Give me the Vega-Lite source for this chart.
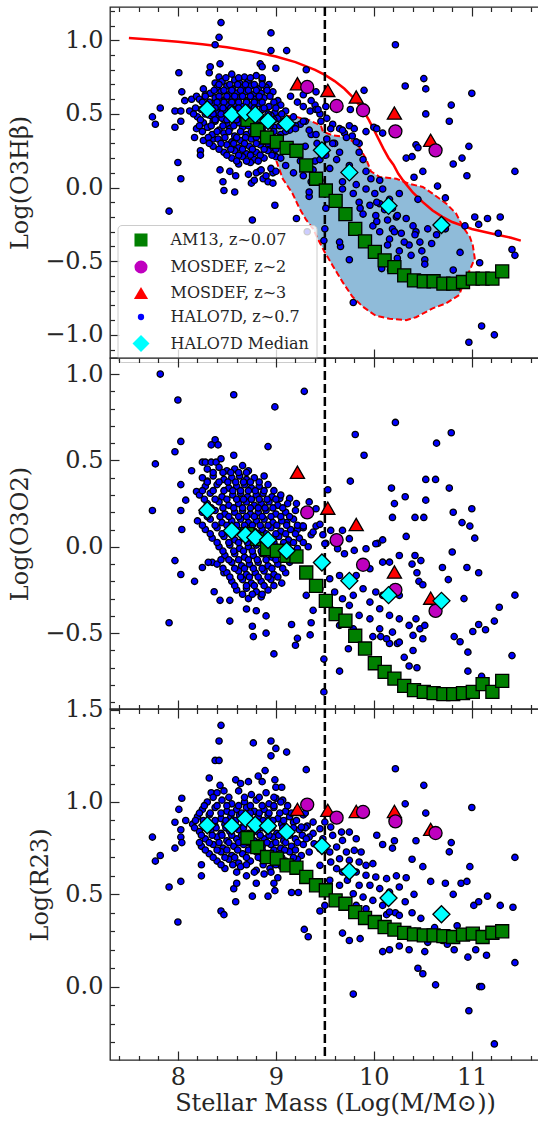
{
"$schema":"https://vega.github.io/schema/vega-lite/v6.json",
"padding":{"left":8,"top":5,"right":0,"bottom":0},
"background":"white",
"config":{
 "font":"DejaVu Serif",
 "view":{"stroke":"#262626","strokeWidth":1.3},
 "axis":{"domain":false,"grid":false,"tickColor":"#262626","tickWidth":1.2,"labelFont":"DejaVu Serif","labelFontSize":24,"labelColor":"#262626","titleFont":"DejaVu Serif","titleFontSize":24,"titleFontWeight":"normal","titleColor":"#262626","labelOverlap":false,"labelFlush":false},
 "legend":{"labelFont":"DejaVu Serif","labelFontSize":16,"labelColor":"#262626","padding":7,"rowPadding":7,"symbolOffset":7,"labelOffset":20,"fillColor":"rgba(255,255,255,0.8)","strokeColor":"#cccccc","cornerRadius":4,"symbolStrokeColor":"#000000","symbolStrokeWidth":1.3,"symbolOpacity":1}
},
"datasets":{
"vline":[{"x":9.5}],
"curve":[{"x":7.5,"y":1.015},{"x":7.75,"y":1.004},{"x":8.0,"y":0.99},{"x":8.25,"y":0.973},{"x":8.5,"y":0.953},{"x":8.75,"y":0.926},{"x":9.0,"y":0.89},{"x":9.2,"y":0.852},{"x":9.4,"y":0.799},{"x":9.5,"y":0.765},{"x":9.6,"y":0.723},{"x":9.7,"y":0.671},{"x":9.8,"y":0.604},{"x":9.9,"y":0.515},{"x":9.95,"y":0.458},{"x":10.0,"y":0.393},{"x":10.05,"y":0.327},{"x":10.1,"y":0.261},{"x":10.15,"y":0.201},{"x":10.2,"y":0.155},{"x":10.25,"y":0.094},{"x":10.3,"y":0.047},{"x":10.4,"y":-0.035},{"x":10.5,"y":-0.099},{"x":10.6,"y":-0.156},{"x":10.7,"y":-0.199},{"x":10.8,"y":-0.234},{"x":11.0,"y":-0.281},{"x":11.2,"y":-0.312},{"x":11.4,"y":-0.341},{"x":11.5,"y":-0.36}],
"blob":[{"x":8.95,"y":0.44,"y2":0.30},{"x":9.0,"y":0.47,"y2":0.19},{"x":9.07,"y":0.49,"y2":0.06},{"x":9.17,"y":0.485,"y2":-0.04},{"x":9.24,"y":0.48,"y2":-0.14},{"x":9.31,"y":0.465,"y2":-0.22},{"x":9.38,"y":0.445,"y2":-0.28},{"x":9.43,"y":0.43,"y2":-0.35},{"x":9.46,"y":0.42,"y2":-0.39},{"x":9.48,"y":0.38,"y2":-0.41},{"x":9.5,"y":0.375,"y2":-0.44},{"x":9.58,"y":0.355,"y2":-0.53},{"x":9.68,"y":0.345,"y2":-0.64},{"x":9.78,"y":0.32,"y2":-0.74},{"x":9.84,"y":0.287,"y2":-0.775},{"x":9.89,"y":0.23,"y2":-0.81},{"x":9.92,"y":0.196,"y2":-0.83},{"x":9.97,"y":0.11,"y2":-0.85},{"x":10.02,"y":0.085,"y2":-0.87},{"x":10.06,"y":0.072,"y2":-0.875},{"x":10.16,"y":0.065,"y2":-0.89},{"x":10.23,"y":0.06,"y2":-0.895},{"x":10.33,"y":0.03,"y2":-0.9},{"x":10.36,"y":0.026,"y2":-0.895},{"x":10.43,"y":0.014,"y2":-0.88},{"x":10.5,"y":0.004,"y2":-0.85},{"x":10.6,"y":-0.041,"y2":-0.82},{"x":10.74,"y":-0.109,"y2":-0.785},{"x":10.84,"y":-0.177,"y2":-0.74},{"x":10.87,"y":-0.21,"y2":-0.73},{"x":10.91,"y":-0.268,"y2":-0.66},{"x":10.98,"y":-0.335,"y2":-0.56},{"x":11.01,"y":-0.392,"y2":-0.52},{"x":11.03,"y":-0.48,"y2":-0.48}],
"outline":[{"i":1,"x":8.95,"y":0.44},{"i":2,"x":9.0,"y":0.47},{"i":3,"x":9.07,"y":0.49},{"i":4,"x":9.15,"y":0.485},{"i":5,"x":9.21,"y":0.48},{"i":6,"x":9.34,"y":0.457},{"i":7,"x":9.46,"y":0.42},{"i":8,"x":9.48,"y":0.38},{"i":9,"x":9.58,"y":0.355},{"i":10,"x":9.72,"y":0.344},{"i":11,"x":9.84,"y":0.287},{"i":12,"x":9.92,"y":0.196},{"i":13,"x":9.97,"y":0.11},{"i":14,"x":10.06,"y":0.072},{"i":15,"x":10.23,"y":0.06},{"i":16,"x":10.36,"y":0.026},{"i":17,"x":10.5,"y":0.004},{"i":18,"x":10.6,"y":-0.041},{"i":19,"x":10.74,"y":-0.109},{"i":20,"x":10.84,"y":-0.177},{"i":21,"x":10.91,"y":-0.268},{"i":22,"x":10.98,"y":-0.335},{"i":23,"x":11.01,"y":-0.392},{"i":24,"x":11.03,"y":-0.48},{"i":25,"x":10.98,"y":-0.56},{"i":26,"x":10.92,"y":-0.64},{"i":27,"x":10.87,"y":-0.73},{"i":28,"x":10.74,"y":-0.785},{"i":29,"x":10.6,"y":-0.82},{"i":30,"x":10.43,"y":-0.88},{"i":31,"x":10.33,"y":-0.9},{"i":32,"x":10.16,"y":-0.89},{"i":33,"x":10.02,"y":-0.87},{"i":34,"x":9.89,"y":-0.81},{"i":35,"x":9.78,"y":-0.74},{"i":36,"x":9.68,"y":-0.64},{"i":37,"x":9.58,"y":-0.53},{"i":38,"x":9.5,"y":-0.44},{"i":39,"x":9.43,"y":-0.35},{"i":40,"x":9.38,"y":-0.28},{"i":41,"x":9.31,"y":-0.22},{"i":42,"x":9.24,"y":-0.14},{"i":43,"x":9.17,"y":-0.04},{"i":44,"x":9.07,"y":0.06},{"i":45,"x":9.0,"y":0.19},{"i":46,"x":8.96,"y":0.29},{"i":47,"x":8.95,"y":0.44}],
"p1":[
{"s":"H","x":8.44,"y":1.12},{"s":"H","x":8.42,"y":1.02},{"s":"H","x":8.38,"y":0.97},{"s":"H","x":8.95,"y":1.05},{"s":"H","x":8.95,"y":0.93},{"s":"H","x":9.11,"y":0.93},{"s":"H","x":8.01,"y":0.78},{"s":"H","x":8.32,"y":0.78},{"s":"H","x":8.33,"y":0.82},{"s":"H","x":8.43,"y":0.84},{"s":"H","x":8.42,"y":0.75},{"s":"H","x":8.38,"y":0.71},{"s":"H","x":8.84,"y":0.84},{"s":"H","x":8.86,"y":0.82},{"s":"H","x":9.0,"y":0.81},{"s":"H","x":9.31,"y":0.8},{"s":"H","x":7.82,"y":0.54},{"s":"H","x":7.74,"y":0.48},{"s":"H","x":7.77,"y":0.43},{"s":"H","x":7.97,"y":0.52},{"s":"H","x":7.97,"y":0.41},{"s":"H","x":8.03,"y":0.52},{"s":"H","x":8.03,"y":0.45},{"s":"H","x":8.04,"y":0.65},{"s":"H","x":8.07,"y":0.59},{"s":"H","x":8.14,"y":0.6},{"s":"H","x":8.19,"y":0.62},{"s":"H","x":8.26,"y":0.67},{"s":"H","x":8.28,"y":0.63},{"s":"H","x":8.0,"y":0.17},{"s":"H","x":8.03,"y":0.06},{"s":"H","x":7.91,"y":-0.16},{"s":"H","x":8.17,"y":0.34},{"s":"H","x":8.23,"y":0.25},{"s":"H","x":8.23,"y":0.22},{"s":"H","x":8.36,"y":0.33},{"s":"H","x":8.31,"y":0.41},{"s":"H","x":8.36,"y":0.45},{"s":"H","x":8.42,"y":0.49},{"s":"H","x":8.43,"y":0.12},{"s":"H","x":8.46,"y":0.04},{"s":"H","x":8.47,"y":-0.02},{"s":"H","x":8.53,"y":0.11},{"s":"H","x":8.59,"y":0.08},{"s":"H","x":8.58,"y":-0.03},{"s":"H","x":8.75,"y":0.03},{"s":"H","x":8.78,"y":0.05},{"s":"H","x":8.83,"y":0.11},{"s":"H","x":8.87,"y":0.06},{"s":"H","x":8.9,"y":0.08},{"s":"H","x":8.97,"y":0.1},{"s":"H","x":8.92,"y":0.04},{"s":"H","x":8.97,"y":0.03},{"s":"H","x":8.76,"y":-0.22},{"s":"H","x":8.99,"y":-0.12},{"s":"H","x":9.21,"y":-0.21},{"s":"H","x":9.34,"y":-0.06},{"s":"H","x":8.8,"y":0.1},{"s":"H","x":8.85,"y":0.12},{"s":"H","x":8.72,"y":0.09},{"s":"H","x":8.95,"y":0.13},{"s":"H","x":9.0,"y":0.11},
{"s":"H","x":8.55,"y":0.77},{"s":"H","x":8.68,"y":0.75},{"s":"H","x":8.8,"y":0.76},{"s":"H","x":8.45,"y":0.72},{"s":"H","x":8.58,"y":0.73},{"s":"H","x":8.63,"y":0.71},{"s":"H","x":8.72,"y":0.72},{"s":"H","x":8.86,"y":0.73},{"s":"H","x":8.93,"y":0.7},{"s":"H","x":8.4,"y":0.68},{"s":"H","x":8.5,"y":0.69},{"s":"H","x":8.56,"y":0.67},{"s":"H","x":8.66,"y":0.68},{"s":"H","x":8.74,"y":0.69},{"s":"H","x":8.82,"y":0.67},{"s":"H","x":8.9,"y":0.68},{"s":"H","x":8.33,"y":0.64},{"s":"H","x":8.44,"y":0.65},{"s":"H","x":8.52,"y":0.63},{"s":"H","x":8.6,"y":0.64},{"s":"H","x":8.69,"y":0.65},{"s":"H","x":8.77,"y":0.63},{"s":"H","x":8.85,"y":0.64},{"s":"H","x":8.97,"y":0.65},{"s":"H","x":8.22,"y":0.6},{"s":"H","x":8.38,"y":0.61},{"s":"H","x":8.47,"y":0.59},{"s":"H","x":8.55,"y":0.6},{"s":"H","x":8.62,"y":0.61},{"s":"H","x":8.7,"y":0.59},{"s":"H","x":8.78,"y":0.6},{"s":"H","x":8.88,"y":0.61},{"s":"H","x":9.02,"y":0.59},{"s":"H","x":8.28,"y":0.56},{"s":"H","x":8.35,"y":0.57},{"s":"H","x":8.43,"y":0.55},{"s":"H","x":8.51,"y":0.56},{"s":"H","x":8.58,"y":0.57},{"s":"H","x":8.66,"y":0.55},{"s":"H","x":8.74,"y":0.56},{"s":"H","x":8.82,"y":0.57},{"s":"H","x":8.93,"y":0.55},{"s":"H","x":9.05,"y":0.56},{"s":"H","x":8.12,"y":0.52},{"s":"H","x":8.24,"y":0.53},{"s":"H","x":8.4,"y":0.51},{"s":"H","x":8.48,"y":0.52},{"s":"H","x":8.6,"y":0.53},{"s":"H","x":8.7,"y":0.51},{"s":"H","x":8.78,"y":0.52},{"s":"H","x":8.86,"y":0.53},{"s":"H","x":8.99,"y":0.51},{"s":"H","x":9.1,"y":0.52},{"s":"H","x":8.2,"y":0.48},{"s":"H","x":8.33,"y":0.49},{"s":"H","x":8.45,"y":0.47},{"s":"H","x":8.56,"y":0.48},{"s":"H","x":8.64,"y":0.49},{"s":"H","x":8.72,"y":0.47},{"s":"H","x":8.84,"y":0.48},{"s":"H","x":8.95,"y":0.49},{"s":"H","x":9.02,"y":0.47},{"s":"H","x":9.18,"y":0.48},{"s":"H","x":8.26,"y":0.44},{"s":"H","x":8.38,"y":0.45},{"s":"H","x":8.5,"y":0.43},{"s":"H","x":8.62,"y":0.44},{"s":"H","x":8.69,"y":0.45},{"s":"H","x":8.8,"y":0.43},{"s":"H","x":8.9,"y":0.44},{"s":"H","x":9.08,"y":0.45},{"s":"H","x":9.25,"y":0.43},{"s":"H","x":8.19,"y":0.4},{"s":"H","x":8.3,"y":0.41},{"s":"H","x":8.42,"y":0.39},{"s":"H","x":8.53,"y":0.4},{"s":"H","x":8.66,"y":0.41},{"s":"H","x":8.77,"y":0.39},{"s":"H","x":8.86,"y":0.4},{"s":"H","x":8.98,"y":0.41},{"s":"H","x":9.14,"y":0.39},{"s":"H","x":8.35,"y":0.36},{"s":"H","x":8.47,"y":0.37},{"s":"H","x":8.58,"y":0.35},{"s":"H","x":8.7,"y":0.36},{"s":"H","x":8.81,"y":0.37},{"s":"H","x":8.92,"y":0.35},{"s":"H","x":9.05,"y":0.36},{"s":"H","x":8.26,"y":0.32},{"s":"H","x":8.41,"y":0.33},{"s":"H","x":8.55,"y":0.31},{"s":"H","x":8.64,"y":0.32},{"s":"H","x":8.75,"y":0.33},{"s":"H","x":8.87,"y":0.31},{"s":"H","x":9.0,"y":0.32},{"s":"H","x":8.36,"y":0.28},{"s":"H","x":8.5,"y":0.29},{"s":"H","x":8.62,"y":0.27},{"s":"H","x":8.73,"y":0.28},{"s":"H","x":8.84,"y":0.29},{"s":"H","x":8.96,"y":0.27},{"s":"H","x":8.47,"y":0.24},{"s":"H","x":8.58,"y":0.25},{"s":"H","x":8.7,"y":0.23},{"s":"H","x":8.8,"y":0.24},{"s":"H","x":8.92,"y":0.25},{"s":"H","x":8.55,"y":0.2},{"s":"H","x":8.66,"y":0.21},{"s":"H","x":8.78,"y":0.19},{"s":"H","x":8.88,"y":0.2},{"s":"H","x":9.0,"y":0.21},{"s":"H","x":8.62,"y":0.16},{"s":"H","x":8.74,"y":0.17},
{"s":"H","x":8.49,"y":0.745},{"s":"H","x":8.62,"y":0.745},{"s":"H","x":8.74,"y":0.745},{"s":"H","x":8.86,"y":0.745},{"s":"H","x":8.42,"y":0.7},{"s":"H","x":8.53,"y":0.7},{"s":"H","x":8.61,"y":0.7},{"s":"H","x":8.69,"y":0.7},{"s":"H","x":8.78,"y":0.7},{"s":"H","x":8.86,"y":0.7},{"s":"H","x":8.37,"y":0.66},{"s":"H","x":8.47,"y":0.66},{"s":"H","x":8.55,"y":0.66},{"s":"H","x":8.64,"y":0.66},{"s":"H","x":8.72,"y":0.66},{"s":"H","x":8.8,"y":0.66},{"s":"H","x":8.91,"y":0.66},{"s":"H","x":8.28,"y":0.62},{"s":"H","x":8.42,"y":0.62},{"s":"H","x":8.5,"y":0.62},{"s":"H","x":8.58,"y":0.62},{"s":"H","x":8.66,"y":0.62},{"s":"H","x":8.74,"y":0.62},{"s":"H","x":8.83,"y":0.62},{"s":"H","x":8.94,"y":0.62},{"s":"H","x":8.25,"y":0.58},{"s":"H","x":8.32,"y":0.58},{"s":"H","x":8.4,"y":0.58},{"s":"H","x":8.47,"y":0.58},{"s":"H","x":8.55,"y":0.58},{"s":"H","x":8.62,"y":0.58},{"s":"H","x":8.7,"y":0.58},{"s":"H","x":8.78,"y":0.58},{"s":"H","x":8.86,"y":0.58},{"s":"H","x":8.98,"y":0.58},{"s":"H","x":8.18,"y":0.54},{"s":"H","x":8.31,"y":0.54},{"s":"H","x":8.38,"y":0.54},{"s":"H","x":8.46,"y":0.54},{"s":"H","x":8.54,"y":0.54},{"s":"H","x":8.62,"y":0.54},{"s":"H","x":8.7,"y":0.54},{"s":"H","x":8.78,"y":0.54},{"s":"H","x":8.88,"y":0.54},{"s":"H","x":9.0,"y":0.54},{"s":"H","x":8.16,"y":0.5},{"s":"H","x":8.28,"y":0.5},{"s":"H","x":8.36,"y":0.5},{"s":"H","x":8.44,"y":0.5},{"s":"H","x":8.52,"y":0.5},{"s":"H","x":8.64,"y":0.5},{"s":"H","x":8.75,"y":0.5},{"s":"H","x":8.82,"y":0.5},{"s":"H","x":8.92,"y":0.5},{"s":"H","x":9.06,"y":0.5},{"s":"H","x":8.23,"y":0.46},{"s":"H","x":8.38,"y":0.46},{"s":"H","x":8.5,"y":0.46},{"s":"H","x":8.6,"y":0.46},{"s":"H","x":8.68,"y":0.46},{"s":"H","x":8.78,"y":0.46},{"s":"H","x":8.88,"y":0.46},{"s":"H","x":8.98,"y":0.46},{"s":"H","x":9.12,"y":0.46},{"s":"H","x":8.22,"y":0.42},{"s":"H","x":8.34,"y":0.42},{"s":"H","x":8.46,"y":0.42},{"s":"H","x":8.57,"y":0.42},{"s":"H","x":8.72,"y":0.42},{"s":"H","x":8.83,"y":0.42},{"s":"H","x":8.94,"y":0.42},{"s":"H","x":9.04,"y":0.42},{"s":"H","x":9.2,"y":0.42},{"s":"H","x":8.25,"y":0.38},{"s":"H","x":8.4,"y":0.38},{"s":"H","x":8.52,"y":0.38},{"s":"H","x":8.64,"y":0.38},{"s":"H","x":8.75,"y":0.38},{"s":"H","x":8.86,"y":0.38},{"s":"H","x":8.98,"y":0.38},{"s":"H","x":9.1,"y":0.38},{"s":"H","x":8.31,"y":0.34},{"s":"H","x":8.48,"y":0.34},{"s":"H","x":8.6,"y":0.34},{"s":"H","x":8.69,"y":0.34},{"s":"H","x":8.8,"y":0.34},{"s":"H","x":8.93,"y":0.34},{"s":"H","x":9.04,"y":0.34},{"s":"H","x":8.32,"y":0.3},{"s":"H","x":8.44,"y":0.3},{"s":"H","x":8.57,"y":0.3},{"s":"H","x":8.68,"y":0.3},{"s":"H","x":8.8,"y":0.3},{"s":"H","x":8.92,"y":0.3},{"s":"H","x":8.42,"y":0.26},{"s":"H","x":8.54,"y":0.26},{"s":"H","x":8.66,"y":0.26},{"s":"H","x":8.76,"y":0.26},{"s":"H","x":8.88,"y":0.26},{"s":"H","x":9.0,"y":0.26},{"s":"H","x":8.5,"y":0.22},{"s":"H","x":8.62,"y":0.22},{"s":"H","x":8.74,"y":0.22},{"s":"H","x":8.84,"y":0.22},{"s":"H","x":8.96,"y":0.22},{"s":"H","x":8.6,"y":0.18},{"s":"H","x":8.7,"y":0.18},{"s":"H","x":8.82,"y":0.18},
{"s":"H","x":9.15,"y":0.62},{"s":"H","x":9.22,"y":0.58},{"s":"H","x":9.28,"y":0.55},{"s":"H","x":9.35,"y":0.52},{"s":"H","x":9.4,"y":0.56},{"s":"H","x":9.45,"y":0.5},{"s":"H","x":9.52,"y":0.47},{"s":"H","x":9.58,"y":0.43},{"s":"H","x":9.65,"y":0.4},{"s":"H","x":9.7,"y":0.37},{"s":"H","x":9.3,"y":0.45},{"s":"H","x":9.2,"y":0.4},{"s":"H","x":9.36,"y":0.36},{"s":"H","x":9.42,"y":0.3},{"s":"H","x":9.48,"y":0.25},{"s":"H","x":9.3,"y":0.28},{"s":"H","x":9.25,"y":0.18},{"s":"H","x":9.38,"y":0.12},{"s":"H","x":9.45,"y":0.05},{"s":"H","x":9.52,"y":0.33},{"s":"H","x":9.6,"y":0.3},{"s":"H","x":9.75,"y":0.42},{"s":"H","x":9.78,"y":0.35},{"s":"H","x":9.85,"y":0.3},{"s":"H","x":9.92,"y":0.38},{"s":"H","x":10.0,"y":0.41},{"s":"H","x":9.28,"y":0.63},{"s":"H","x":9.36,"y":0.59},{"s":"H","x":9.41,"y":0.53},{"s":"H","x":9.51,"y":0.55},{"s":"H","x":9.41,"y":0.65},{"s":"H","x":9.46,"y":0.45},{"s":"H","x":9.1,"y":0.15},{"s":"H","x":9.18,"y":0.1},{"s":"H","x":9.28,"y":0.08},{"s":"H","x":9.4,"y":0.18},{"s":"H","x":9.15,"y":0.25},{"s":"H","x":9.05,"y":0.2},
{"s":"H","x":10.22,"y":0.97},{"s":"H","x":10.32,"y":0.69},{"s":"H","x":10.51,"y":0.74},{"s":"H","x":10.53,"y":0.67},{"s":"H","x":11.0,"y":0.64},{"s":"H","x":10.79,"y":0.56},{"s":"H","x":10.53,"y":0.5},{"s":"H","x":10.77,"y":0.45},{"s":"H","x":9.9,"y":0.66},{"s":"H","x":9.43,"y":0.53},{"s":"H","x":9.76,"y":0.53},{"s":"H","x":10.03,"y":0.4},{"s":"H","x":10.09,"y":0.37},{"s":"H","x":10.43,"y":0.29},{"s":"H","x":10.45,"y":0.27},{"s":"H","x":10.33,"y":0.2},{"s":"H","x":10.39,"y":0.21},{"s":"H","x":10.97,"y":0.28},{"s":"H","x":10.9,"y":0.2},{"s":"H","x":10.81,"y":0.16},{"s":"H","x":10.5,"y":0.11},{"s":"H","x":10.65,"y":0.01},{"s":"H","x":10.41,"y":0.07},{"s":"H","x":10.95,"y":0.08},{"s":"H","x":11.44,"y":0.11},{"s":"H","x":10.73,"y":-0.07},{"s":"H","x":11.03,"y":-0.2},{"s":"H","x":11.07,"y":-0.25},{"s":"H","x":11.16,"y":-0.21},{"s":"H","x":11.29,"y":-0.2},{"s":"H","x":10.93,"y":-0.26},{"s":"H","x":11.27,"y":-0.31},{"s":"H","x":11.41,"y":-0.42},{"s":"H","x":11.44,"y":-0.46},{"s":"H","x":10.88,"y":-0.44},{"s":"H","x":10.81,"y":-0.56},{"s":"H","x":11.08,"y":-0.51},{"s":"H","x":11.1,"y":-0.94},{"s":"H","x":11.23,"y":-1.0},{"s":"H","x":10.97,"y":-1.05},{"s":"H","x":9.79,"y":-0.78},{"s":"H","x":9.75,"y":-0.49},{"s":"H","x":9.66,"y":-0.4},{"s":"H","x":9.49,"y":-0.36},{"s":"H","x":10.52,"y":-0.49},{"s":"H","x":10.52,"y":-0.52},{"s":"H","x":9.32,"y":-0.3},
{"s":"H","x":9.28,"y":0.45},{"s":"H","x":9.34,"y":0.39},{"s":"H","x":9.41,"y":0.36},{"s":"H","x":9.56,"y":0.4},{"s":"H","x":9.68,"y":0.39},{"s":"H","x":9.8,"y":0.4},{"s":"H","x":9.72,"y":0.34},{"s":"H","x":9.82,"y":0.31},{"s":"H","x":9.58,"y":0.3},{"s":"H","x":9.65,"y":0.24},{"s":"H","x":9.51,"y":0.22},{"s":"H","x":9.45,"y":0.19},{"s":"H","x":9.62,"y":0.19},{"s":"H","x":9.85,"y":0.24},{"s":"H","x":9.89,"y":0.19},{"s":"H","x":9.75,"y":0.15},{"s":"H","x":9.55,"y":0.13},{"s":"H","x":9.92,"y":0.11},{"s":"H","x":9.97,"y":0.06},{"s":"H","x":10.06,"y":0.05},{"s":"H","x":9.82,"y":0.02},{"s":"H","x":9.68,"y":-0.01},{"s":"H","x":9.92,"y":-0.01},{"s":"H","x":10.09,"y":-0.01},{"s":"H","x":9.79,"y":-0.04},{"s":"H","x":10.01,"y":-0.04},{"s":"H","x":9.85,"y":-0.1},{"s":"H","x":9.96,"y":-0.12},{"s":"H","x":10.06,"y":-0.11},{"s":"H","x":10.19,"y":-0.14},{"s":"H","x":9.89,"y":-0.18},{"s":"H","x":10.02,"y":-0.19},{"s":"H","x":10.14,"y":-0.22},{"s":"H","x":10.23,"y":-0.2},{"s":"H","x":10.33,"y":-0.21},{"s":"H","x":10.19,"y":-0.28},{"s":"H","x":10.28,"y":-0.31},{"s":"H","x":10.43,"y":-0.3},{"s":"H","x":10.47,"y":-0.37},{"s":"H","x":10.36,"y":-0.39},{"s":"H","x":10.26,"y":-0.43},{"s":"H","x":10.16,"y":-0.35},{"s":"H","x":10.06,"y":-0.3},{"s":"H","x":9.65,"y":-0.37},{"s":"H","x":9.5,"y":-0.28},{"s":"H","x":9.51,"y":-0.14},{"s":"H","x":9.34,"y":-0.03},{"s":"H","x":9.36,"y":0.04},{"s":"H","x":10.4,"y":-0.26},{"s":"H","x":10.55,"y":-0.28},{"s":"H","x":10.16,"y":-0.08},{"s":"H","x":10.26,"y":-0.04},{"s":"H","x":10.45,"y":-0.08},{"s":"H","x":10.11,"y":-0.15},{"s":"H","x":9.99,"y":-0.26},{"s":"H","x":9.68,"y":0.04},{"s":"H","x":9.86,"y":-0.14},{"s":"H","x":10.03,"y":-0.23},{"s":"H","x":10.21,"y":-0.3},{"s":"H","x":10.31,"y":-0.37},{"s":"H","x":10.42,"y":-0.32},{"s":"H","x":10.14,"y":-0.39},{"s":"H","x":10.24,"y":-0.48},{"s":"H","x":10.38,"y":-0.46},{"s":"H","x":10.08,"y":-0.55},{"s":"H","x":10.17,"y":-0.56},{"s":"H","x":10.49,"y":-0.43},{"s":"H","x":10.59,"y":-0.38},{"s":"H","x":10.64,"y":-0.32},{"s":"H","x":10.73,"y":-0.28},{"s":"H","x":10.24,"y":-0.19},{"s":"H","x":10.03,"y":-0.1},
{"s":"A","x":8.71,"y":0.46},{"s":"A","x":8.81,"y":0.39},{"s":"A","x":8.91,"y":0.34},{"s":"A","x":9.01,"y":0.31},{"s":"A","x":9.11,"y":0.27},{"s":"A","x":9.21,"y":0.25},{"s":"A","x":9.31,"y":0.15},{"s":"A","x":9.41,"y":0.06},{"s":"A","x":9.51,"y":-0.02},{"s":"A","x":9.61,"y":-0.09},{"s":"A","x":9.71,"y":-0.18},{"s":"A","x":9.81,"y":-0.28},{"s":"A","x":9.91,"y":-0.365},{"s":"A","x":10.01,"y":-0.437},{"s":"A","x":10.11,"y":-0.494},{"s":"A","x":10.21,"y":-0.54},{"s":"A","x":10.31,"y":-0.596},{"s":"A","x":10.41,"y":-0.63},{"s":"A","x":10.51,"y":-0.636},{"s":"A","x":10.61,"y":-0.636},{"s":"A","x":10.71,"y":-0.652},{"s":"A","x":10.81,"y":-0.652},{"s":"A","x":10.91,"y":-0.641},{"s":"A","x":11.01,"y":-0.618},{"s":"A","x":11.11,"y":-0.618},{"s":"A","x":11.21,"y":-0.618},{"s":"A","x":11.31,"y":-0.569},
{"s":"M3","x":9.22,"y":0.705},{"s":"M3","x":9.53,"y":0.66},{"s":"M3","x":9.82,"y":0.615},{"s":"M3","x":10.21,"y":0.506},{"s":"M3","x":10.58,"y":0.321},
{"s":"M2","x":9.32,"y":0.683},{"s":"M2","x":9.62,"y":0.554},{"s":"M2","x":9.89,"y":0.525},{"s":"M2","x":10.22,"y":0.382},{"s":"M2","x":10.63,"y":0.253},
{"s":"D","x":8.3,"y":0.532},{"s":"D","x":8.55,"y":0.495},{"s":"D","x":8.69,"y":0.509},{"s":"D","x":8.79,"y":0.495},{"s":"D","x":8.92,"y":0.452},{"s":"D","x":9.11,"y":0.434},{"s":"D","x":9.47,"y":0.253},{"s":"D","x":9.75,"y":0.103},{"s":"D","x":10.15,"y":-0.124},{"s":"D","x":10.69,"y":-0.254}
],
"p2":[
{"s":"H","x":7.82,"y":1.0},{"s":"H","x":8.0,"y":0.85},{"s":"H","x":8.57,"y":0.88},{"s":"H","x":9.29,"y":0.9},{"s":"H","x":8.99,"y":0.81},{"s":"H","x":8.03,"y":0.61},{"s":"H","x":7.97,"y":0.55},{"s":"H","x":7.77,"y":0.48},{"s":"H","x":8.38,"y":0.62},{"s":"H","x":8.34,"y":0.59},{"s":"H","x":8.41,"y":0.59},{"s":"H","x":8.92,"y":0.58},{"s":"H","x":8.57,"y":0.53},{"s":"H","x":7.74,"y":0.21},{"s":"H","x":8.03,"y":0.36},{"s":"H","x":8.03,"y":0.21},{"s":"H","x":8.04,"y":0.1},{"s":"H","x":8.08,"y":0.27},{"s":"H","x":8.19,"y":0.32},{"s":"H","x":8.14,"y":0.44},{"s":"H","x":8.25,"y":0.49},{"s":"H","x":8.28,"y":0.49},{"s":"H","x":8.34,"y":0.49},{"s":"H","x":8.39,"y":0.49},{"s":"H","x":8.44,"y":0.51},{"s":"H","x":8.3,"y":0.38},{"s":"H","x":7.97,"y":-0.08},{"s":"H","x":8.03,"y":-0.16},{"s":"H","x":8.17,"y":-0.2},{"s":"H","x":7.91,"y":-0.44},{"s":"H","x":8.53,"y":-0.43},{"s":"H","x":8.35,"y":-0.09},{"s":"H","x":8.31,"y":-0.09},{"s":"H","x":8.25,"y":-0.12},{"s":"H","x":8.47,"y":-0.15},{"s":"H","x":8.37,"y":-0.26},{"s":"H","x":8.43,"y":-0.31},{"s":"H","x":8.53,"y":-0.31},{"s":"H","x":8.7,"y":-0.36},{"s":"H","x":8.8,"y":-0.37},{"s":"H","x":8.9,"y":-0.4},{"s":"H","x":8.76,"y":-0.46},{"s":"H","x":8.77,"y":-0.52},{"s":"H","x":8.9,"y":-0.5},{"s":"H","x":9.16,"y":-0.45},{"s":"H","x":9.36,"y":-0.44},{"s":"H","x":9.35,"y":-0.51},{"s":"H","x":9.22,"y":-0.53},{"s":"H","x":9.2,"y":-0.57},{"s":"H","x":8.98,"y":-0.62},{"s":"H","x":9.49,"y":-0.65},{"s":"H","x":9.49,"y":-0.84},
{"s":"H","x":9.04,"y":0.28},{"s":"H","x":9.14,"y":0.28},{"s":"H","x":9.21,"y":0.25},{"s":"H","x":9.34,"y":0.26},{"s":"H","x":9.41,"y":0.22},{"s":"H","x":9.27,"y":0.12},{"s":"H","x":9.41,"y":0.12},{"s":"H","x":9.48,"y":0.07},{"s":"H","x":9.36,"y":0.07},{"s":"H","x":9.51,"y":0.02},{"s":"H","x":9.11,"y":0.14},{"s":"H","x":9.22,"y":0.1},
{"s":"H","x":8.3,"y":0.45},{"s":"H","x":8.42,"y":0.46},{"s":"H","x":8.5,"y":0.44},{"s":"H","x":8.58,"y":0.45},{"s":"H","x":8.66,"y":0.47},{"s":"H","x":8.72,"y":0.44},{"s":"H","x":8.25,"y":0.4},{"s":"H","x":8.36,"y":0.41},{"s":"H","x":8.47,"y":0.39},{"s":"H","x":8.55,"y":0.4},{"s":"H","x":8.63,"y":0.41},{"s":"H","x":8.7,"y":0.39},{"s":"H","x":8.78,"y":0.4},{"s":"H","x":8.88,"y":0.41},{"s":"H","x":8.28,"y":0.35},{"s":"H","x":8.4,"y":0.36},{"s":"H","x":8.52,"y":0.34},{"s":"H","x":8.6,"y":0.35},{"s":"H","x":8.68,"y":0.36},{"s":"H","x":8.75,"y":0.34},{"s":"H","x":8.83,"y":0.35},{"s":"H","x":8.92,"y":0.36},{"s":"H","x":8.22,"y":0.3},{"s":"H","x":8.33,"y":0.31},{"s":"H","x":8.45,"y":0.29},{"s":"H","x":8.56,"y":0.3},{"s":"H","x":8.64,"y":0.31},{"s":"H","x":8.71,"y":0.29},{"s":"H","x":8.8,"y":0.3},{"s":"H","x":8.87,"y":0.31},{"s":"H","x":8.96,"y":0.29},{"s":"H","x":9.05,"y":0.3},{"s":"H","x":8.3,"y":0.25},{"s":"H","x":8.42,"y":0.26},{"s":"H","x":8.52,"y":0.24},{"s":"H","x":8.62,"y":0.25},{"s":"H","x":8.7,"y":0.26},{"s":"H","x":8.78,"y":0.24},{"s":"H","x":8.85,"y":0.25},{"s":"H","x":8.93,"y":0.26},{"s":"H","x":9.02,"y":0.24},{"s":"H","x":9.12,"y":0.25},{"s":"H","x":8.25,"y":0.2},{"s":"H","x":8.38,"y":0.21},{"s":"H","x":8.48,"y":0.19},{"s":"H","x":8.58,"y":0.2},{"s":"H","x":8.66,"y":0.21},{"s":"H","x":8.74,"y":0.19},{"s":"H","x":8.82,"y":0.2},{"s":"H","x":8.9,"y":0.21},{"s":"H","x":9.0,"y":0.19},{"s":"H","x":9.1,"y":0.2},{"s":"H","x":9.2,"y":0.21},{"s":"H","x":8.2,"y":0.15},{"s":"H","x":8.33,"y":0.16},{"s":"H","x":8.45,"y":0.14},{"s":"H","x":8.55,"y":0.15},{"s":"H","x":8.64,"y":0.16},{"s":"H","x":8.72,"y":0.14},{"s":"H","x":8.8,"y":0.15},{"s":"H","x":8.88,"y":0.16},{"s":"H","x":8.97,"y":0.14},{"s":"H","x":9.06,"y":0.15},{"s":"H","x":9.18,"y":0.16},{"s":"H","x":8.28,"y":0.1},{"s":"H","x":8.4,"y":0.11},{"s":"H","x":8.52,"y":0.09},{"s":"H","x":8.61,"y":0.1},{"s":"H","x":8.7,"y":0.11},{"s":"H","x":8.78,"y":0.09},{"s":"H","x":8.86,"y":0.1},{"s":"H","x":8.95,"y":0.11},{"s":"H","x":9.05,"y":0.09},{"s":"H","x":9.15,"y":0.1},{"s":"H","x":9.28,"y":0.11},{"s":"H","x":8.35,"y":0.05},{"s":"H","x":8.47,"y":0.06},{"s":"H","x":8.58,"y":0.04},{"s":"H","x":8.67,"y":0.05},{"s":"H","x":8.76,"y":0.06},{"s":"H","x":8.84,"y":0.04},{"s":"H","x":8.94,"y":0.05},{"s":"H","x":9.03,"y":0.06},{"s":"H","x":9.13,"y":0.04},{"s":"H","x":9.24,"y":0.05},{"s":"H","x":8.42,"y":0.0},{"s":"H","x":8.53,"y":0.01},{"s":"H","x":8.63,"y":-0.01},{"s":"H","x":8.72,"y":0.0},{"s":"H","x":8.8,"y":0.01},{"s":"H","x":8.9,"y":-0.01},{"s":"H","x":9.0,"y":0.0},{"s":"H","x":9.12,"y":0.01},{"s":"H","x":9.22,"y":-0.01},{"s":"H","x":9.33,"y":0.0},{"s":"H","x":8.48,"y":-0.05},{"s":"H","x":8.58,"y":-0.04},{"s":"H","x":8.68,"y":-0.06},{"s":"H","x":8.77,"y":-0.05},{"s":"H","x":8.86,"y":-0.04},{"s":"H","x":8.96,"y":-0.06},{"s":"H","x":9.08,"y":-0.05},{"s":"H","x":9.18,"y":-0.04},{"s":"H","x":8.4,"y":-0.1},{"s":"H","x":8.55,"y":-0.09},{"s":"H","x":8.65,"y":-0.11},{"s":"H","x":8.73,"y":-0.1},{"s":"H","x":8.82,"y":-0.09},{"s":"H","x":8.92,"y":-0.11},{"s":"H","x":9.02,"y":-0.1},{"s":"H","x":9.14,"y":-0.09},{"s":"H","x":8.5,"y":-0.15},{"s":"H","x":8.62,"y":-0.14},{"s":"H","x":8.7,"y":-0.16},{"s":"H","x":8.79,"y":-0.15},{"s":"H","x":8.88,"y":-0.14},{"s":"H","x":8.98,"y":-0.16},{"s":"H","x":9.1,"y":-0.15},{"s":"H","x":8.55,"y":-0.2},{"s":"H","x":8.66,"y":-0.19},{"s":"H","x":8.75,"y":-0.21},{"s":"H","x":8.85,"y":-0.2},{"s":"H","x":8.95,"y":-0.19},{"s":"H","x":9.06,"y":-0.21},{"s":"H","x":8.6,"y":-0.25},{"s":"H","x":8.7,"y":-0.24},{"s":"H","x":8.8,"y":-0.26},{"s":"H","x":8.92,"y":-0.25},{"s":"H","x":8.72,"y":-0.3},{"s":"H","x":8.85,"y":-0.29},
{"s":"H","x":8.36,"y":0.43},{"s":"H","x":8.46,"y":0.43},{"s":"H","x":8.54,"y":0.43},{"s":"H","x":8.62,"y":0.43},{"s":"H","x":8.7,"y":0.43},{"s":"H","x":8.3,"y":0.375},{"s":"H","x":8.42,"y":0.375},{"s":"H","x":8.51,"y":0.375},{"s":"H","x":8.59,"y":0.375},{"s":"H","x":8.67,"y":0.375},{"s":"H","x":8.74,"y":0.375},{"s":"H","x":8.83,"y":0.375},{"s":"H","x":8.25,"y":0.325},{"s":"H","x":8.36,"y":0.325},{"s":"H","x":8.47,"y":0.325},{"s":"H","x":8.56,"y":0.325},{"s":"H","x":8.64,"y":0.325},{"s":"H","x":8.72,"y":0.325},{"s":"H","x":8.79,"y":0.325},{"s":"H","x":8.88,"y":0.325},{"s":"H","x":8.98,"y":0.325},{"s":"H","x":8.27,"y":0.275},{"s":"H","x":8.38,"y":0.275},{"s":"H","x":8.5,"y":0.275},{"s":"H","x":8.6,"y":0.275},{"s":"H","x":8.67,"y":0.275},{"s":"H","x":8.75,"y":0.275},{"s":"H","x":8.83,"y":0.275},{"s":"H","x":8.91,"y":0.275},{"s":"H","x":9.0,"y":0.275},{"s":"H","x":8.34,"y":0.225},{"s":"H","x":8.46,"y":0.225},{"s":"H","x":8.57,"y":0.225},{"s":"H","x":8.66,"y":0.225},{"s":"H","x":8.74,"y":0.225},{"s":"H","x":8.82,"y":0.225},{"s":"H","x":8.89,"y":0.225},{"s":"H","x":8.97,"y":0.225},{"s":"H","x":9.07,"y":0.225},{"s":"H","x":8.3,"y":0.175},{"s":"H","x":8.43,"y":0.175},{"s":"H","x":8.52,"y":0.175},{"s":"H","x":8.62,"y":0.175},{"s":"H","x":8.7,"y":0.175},{"s":"H","x":8.78,"y":0.175},{"s":"H","x":8.86,"y":0.175},{"s":"H","x":8.95,"y":0.175},{"s":"H","x":9.05,"y":0.175},{"s":"H","x":9.14,"y":0.175},{"s":"H","x":8.25,"y":0.125},{"s":"H","x":8.38,"y":0.125},{"s":"H","x":8.5,"y":0.125},{"s":"H","x":8.6,"y":0.125},{"s":"H","x":8.68,"y":0.125},{"s":"H","x":8.76,"y":0.125},{"s":"H","x":8.84,"y":0.125},{"s":"H","x":8.92,"y":0.125},{"s":"H","x":9.01,"y":0.125},{"s":"H","x":9.11,"y":0.125},{"s":"H","x":9.22,"y":0.125},{"s":"H","x":8.33,"y":0.075},{"s":"H","x":8.45,"y":0.075},{"s":"H","x":8.56,"y":0.075},{"s":"H","x":8.65,"y":0.075},{"s":"H","x":8.74,"y":0.075},{"s":"H","x":8.82,"y":0.075},{"s":"H","x":8.9,"y":0.075},{"s":"H","x":9.0,"y":0.075},{"s":"H","x":9.1,"y":0.075},{"s":"H","x":9.2,"y":0.075},{"s":"H","x":8.4,"y":0.025},{"s":"H","x":8.52,"y":0.025},{"s":"H","x":8.62,"y":0.025},{"s":"H","x":8.71,"y":0.025},{"s":"H","x":8.8,"y":0.025},{"s":"H","x":8.88,"y":0.025},{"s":"H","x":8.98,"y":0.025},{"s":"H","x":9.08,"y":0.025},{"s":"H","x":9.18,"y":0.025},{"s":"H","x":9.28,"y":0.025},{"s":"H","x":8.46,"y":-0.025},{"s":"H","x":8.57,"y":-0.025},{"s":"H","x":8.67,"y":-0.025},{"s":"H","x":8.76,"y":-0.025},{"s":"H","x":8.85,"y":-0.025},{"s":"H","x":8.94,"y":-0.025},{"s":"H","x":9.05,"y":-0.025},{"s":"H","x":9.16,"y":-0.025},{"s":"H","x":8.44,"y":-0.075},{"s":"H","x":8.52,"y":-0.075},{"s":"H","x":8.62,"y":-0.075},{"s":"H","x":8.72,"y":-0.075},{"s":"H","x":8.81,"y":-0.075},{"s":"H","x":8.9,"y":-0.075},{"s":"H","x":9.0,"y":-0.075},{"s":"H","x":9.12,"y":-0.075},{"s":"H","x":8.46,"y":-0.125},{"s":"H","x":8.58,"y":-0.125},{"s":"H","x":8.68,"y":-0.125},{"s":"H","x":8.77,"y":-0.125},{"s":"H","x":8.86,"y":-0.125},{"s":"H","x":8.96,"y":-0.125},{"s":"H","x":9.07,"y":-0.125},{"s":"H","x":8.53,"y":-0.175},{"s":"H","x":8.64,"y":-0.175},{"s":"H","x":8.73,"y":-0.175},{"s":"H","x":8.82,"y":-0.175},{"s":"H","x":8.92,"y":-0.175},{"s":"H","x":9.02,"y":-0.175},{"s":"H","x":8.58,"y":-0.225},{"s":"H","x":8.7,"y":-0.225},{"s":"H","x":8.78,"y":-0.225},{"s":"H","x":8.88,"y":-0.225},{"s":"H","x":8.98,"y":-0.225},{"s":"H","x":8.66,"y":-0.275},{"s":"H","x":8.76,"y":-0.275},{"s":"H","x":8.86,"y":-0.275},
{"s":"H","x":10.22,"y":0.72},{"s":"H","x":9.81,"y":0.65},{"s":"H","x":9.9,"y":0.53},{"s":"H","x":10.64,"y":0.6},{"s":"H","x":10.79,"y":0.66},{"s":"H","x":9.76,"y":0.38},{"s":"H","x":9.53,"y":0.33},{"s":"H","x":10.18,"y":0.34},{"s":"H","x":10.32,"y":0.29},{"s":"H","x":10.21,"y":0.25},{"s":"H","x":10.53,"y":0.27},{"s":"H","x":10.53,"y":0.39},{"s":"H","x":10.63,"y":0.39},{"s":"H","x":10.77,"y":0.34},{"s":"H","x":10.19,"y":0.17},{"s":"H","x":10.42,"y":0.17},{"s":"H","x":10.51,"y":0.17},{"s":"H","x":10.81,"y":0.2},{"s":"H","x":11.0,"y":0.22},{"s":"H","x":10.9,"y":0.14},{"s":"H","x":10.98,"y":0.12},{"s":"H","x":11.03,"y":0.05},{"s":"H","x":10.33,"y":0.06},{"s":"H","x":10.8,"y":-0.03},{"s":"H","x":10.04,"y":0.02},{"s":"H","x":10.09,"y":0.04},{"s":"H","x":10.26,"y":-0.05},{"s":"H","x":10.42,"y":-0.05},{"s":"H","x":10.48,"y":-0.08},{"s":"H","x":10.39,"y":-0.1},{"s":"H","x":10.44,"y":-0.15},{"s":"H","x":10.46,"y":-0.2},{"s":"H","x":10.5,"y":-0.22},{"s":"H","x":10.7,"y":-0.12},{"s":"H","x":10.76,"y":-0.19},{"s":"H","x":10.95,"y":-0.12},{"s":"H","x":11.07,"y":-0.15},{"s":"H","x":10.92,"y":-0.3},{"s":"H","x":11.44,"y":-0.28},{"s":"H","x":11.28,"y":-0.35},{"s":"H","x":11.23,"y":-0.43},{"s":"H","x":11.07,"y":-0.45},{"s":"H","x":11.14,"y":-0.48},{"s":"H","x":11.01,"y":-0.49},{"s":"H","x":10.82,"y":-0.52},{"s":"H","x":10.88,"y":-0.55},{"s":"H","x":10.96,"y":-0.61},{"s":"H","x":11.41,"y":-0.63},{"s":"H","x":11.1,"y":-0.75},{"s":"H","x":10.96,"y":-0.72},{"s":"H","x":10.36,"y":-0.69},{"s":"H","x":10.44,"y":-0.7},{"s":"H","x":10.31,"y":-0.64},{"s":"H","x":10.16,"y":-0.56},{"s":"H","x":10.24,"y":-0.56},{"s":"H","x":10.4,"y":-0.6},{"s":"H","x":9.99,"y":-0.52},{"s":"H","x":10.07,"y":-0.52},{"s":"H","x":9.74,"y":-0.59},{"s":"H","x":9.65,"y":-0.72},
{"s":"H","x":9.28,"y":0.12},{"s":"H","x":9.38,"y":0.085},{"s":"H","x":9.45,"y":0.13},{"s":"H","x":9.56,"y":0.095},{"s":"H","x":9.68,"y":0.095},{"s":"H","x":9.75,"y":0.047},{"s":"H","x":9.5,"y":0.018},{"s":"H","x":9.63,"y":-0.011},{"s":"H","x":9.8,"y":-0.021},{"s":"H","x":9.92,"y":-0.011},{"s":"H","x":9.7,"y":-0.04},{"s":"H","x":10.02,"y":0.018},{"s":"H","x":10.09,"y":-0.089},{"s":"H","x":10.16,"y":-0.089},{"s":"H","x":9.96,"y":-0.127},{"s":"H","x":9.82,"y":-0.166},{"s":"H","x":9.65,"y":-0.166},{"s":"H","x":9.55,"y":-0.185},{"s":"H","x":9.75,"y":-0.204},{"s":"H","x":9.89,"y":-0.243},{"s":"H","x":10.02,"y":-0.262},{"s":"H","x":10.09,"y":-0.281},{"s":"H","x":10.19,"y":-0.262},{"s":"H","x":10.26,"y":-0.281},{"s":"H","x":9.96,"y":-0.32},{"s":"H","x":9.79,"y":-0.281},{"s":"H","x":9.68,"y":-0.301},{"s":"H","x":9.6,"y":-0.262},{"s":"H","x":9.45,"y":-0.243},{"s":"H","x":9.31,"y":-0.281},{"s":"H","x":9.38,"y":-0.368},{"s":"H","x":9.58,"y":-0.368},{"s":"H","x":9.75,"y":-0.339},{"s":"H","x":9.85,"y":-0.397},{"s":"H","x":9.96,"y":-0.417},{"s":"H","x":10.06,"y":-0.359},{"s":"H","x":10.16,"y":-0.397},{"s":"H","x":10.26,"y":-0.417},{"s":"H","x":10.36,"y":-0.455},{"s":"H","x":10.47,"y":-0.475},{"s":"H","x":10.19,"y":-0.494},{"s":"H","x":10.06,"y":-0.475},{"s":"H","x":9.79,"y":-0.475},{"s":"H","x":9.65,"y":-0.455},{"s":"H","x":10.13,"y":-0.532},{"s":"H","x":10.26,"y":-0.552},{"s":"H","x":10.4,"y":-0.513},{"s":"H","x":10.5,"y":-0.532},{"s":"H","x":10.52,"y":-0.455},{"s":"H","x":10.43,"y":-0.417},
{"s":"A","x":8.71,"y":0.073},{"s":"A","x":8.81,"y":0.044},{"s":"A","x":8.91,"y":-0.014},{"s":"A","x":9.01,"y":-0.023},{"s":"A","x":9.11,"y":-0.052},{"s":"A","x":9.21,"y":-0.056},{"s":"A","x":9.31,"y":-0.149},{"s":"A","x":9.41,"y":-0.226},{"s":"A","x":9.51,"y":-0.313},{"s":"A","x":9.61,"y":-0.39},{"s":"A","x":9.71,"y":-0.428},{"s":"A","x":9.81,"y":-0.515},{"s":"A","x":9.91,"y":-0.589},{"s":"A","x":10.01,"y":-0.674},{"s":"A","x":10.11,"y":-0.724},{"s":"A","x":10.21,"y":-0.763},{"s":"A","x":10.31,"y":-0.805},{"s":"A","x":10.41,"y":-0.83},{"s":"A","x":10.51,"y":-0.84},{"s":"A","x":10.61,"y":-0.847},{"s":"A","x":10.71,"y":-0.853},{"s":"A","x":10.81,"y":-0.853},{"s":"A","x":10.91,"y":-0.847},{"s":"A","x":11.01,"y":-0.84},{"s":"A","x":11.11,"y":-0.795},{"s":"A","x":11.21,"y":-0.84},{"s":"A","x":11.31,"y":-0.776},
{"s":"M3","x":9.22,"y":0.432},{"s":"M3","x":9.53,"y":0.224},{"s":"M3","x":9.82,"y":0.129},{"s":"M3","x":10.21,"y":-0.146},{"s":"M3","x":10.58,"y":-0.297},
{"s":"M2","x":9.32,"y":0.199},{"s":"M2","x":9.62,"y":0.039},{"s":"M2","x":9.89,"y":-0.104},{"s":"M2","x":10.22,"y":-0.249},{"s":"M2","x":10.63,"y":-0.371},
{"s":"D","x":8.3,"y":0.212},{"s":"D","x":8.55,"y":0.093},{"s":"D","x":8.69,"y":0.068},{"s":"D","x":8.79,"y":0.054},{"s":"D","x":8.92,"y":0.039},{"s":"D","x":9.11,"y":-0.023},{"s":"D","x":9.47,"y":-0.091},{"s":"D","x":9.75,"y":-0.197},{"s":"D","x":10.15,"y":-0.28},{"s":"D","x":10.69,"y":-0.313}
],
"p3":[
{"s":"H","x":8.44,"y":1.415},{"s":"H","x":8.42,"y":1.33},{"s":"H","x":8.38,"y":1.225},{"s":"H","x":8.42,"y":1.225},{"s":"H","x":8.77,"y":1.32},{"s":"H","x":8.95,"y":1.33},{"s":"H","x":9.0,"y":1.29},{"s":"H","x":8.95,"y":1.25},{"s":"H","x":9.11,"y":1.27},{"s":"H","x":9.31,"y":1.175},{"s":"H","x":8.89,"y":1.17},{"s":"H","x":8.82,"y":1.14},{"s":"H","x":8.86,"y":1.11},{"s":"H","x":8.32,"y":1.13},{"s":"H","x":8.43,"y":1.09},{"s":"H","x":8.47,"y":1.06},{"s":"H","x":8.34,"y":1.05},{"s":"H","x":8.59,"y":1.12},{"s":"H","x":8.64,"y":1.1},{"s":"H","x":8.72,"y":1.11},{"s":"H","x":8.99,"y":1.12},{"s":"H","x":9.0,"y":1.08},{"s":"H","x":9.06,"y":1.08},{"s":"H","x":9.0,"y":1.02},{"s":"H","x":9.07,"y":1.01},{"s":"H","x":8.04,"y":1.02},{"s":"H","x":8.01,"y":0.96},{"s":"H","x":8.08,"y":0.9},{"s":"H","x":7.97,"y":0.89},{"s":"H","x":8.03,"y":0.85},{"s":"H","x":8.03,"y":0.81},{"s":"H","x":8.04,"y":0.78},{"s":"H","x":7.97,"y":0.75},{"s":"H","x":7.74,"y":0.81},{"s":"H","x":7.82,"y":0.71},{"s":"H","x":7.77,"y":0.68},{"s":"H","x":7.91,"y":0.54},{"s":"H","x":8.03,"y":0.57},{"s":"H","x":8.0,"y":0.35},{"s":"H","x":8.24,"y":0.66},{"s":"H","x":8.24,"y":0.6},{"s":"H","x":8.44,"y":0.41},{"s":"H","x":8.47,"y":0.39},{"s":"H","x":8.57,"y":0.53},{"s":"H","x":8.6,"y":0.56},{"s":"H","x":8.59,"y":0.46},{"s":"H","x":8.76,"y":0.49},{"s":"H","x":8.92,"y":0.49},{"s":"H","x":8.8,"y":0.56},{"s":"H","x":8.98,"y":0.56},{"s":"H","x":8.99,"y":0.52},{"s":"H","x":9.16,"y":0.51},{"s":"H","x":9.23,"y":0.51},{"s":"H","x":9.29,"y":0.31},{"s":"H","x":9.33,"y":0.27},{"s":"H","x":9.45,"y":0.41},{"s":"H","x":9.5,"y":0.44},
{"s":"H","x":8.4,"y":1.05},{"s":"H","x":8.62,"y":1.06},{"s":"H","x":8.75,"y":1.04},{"s":"H","x":8.9,"y":1.05},{"s":"H","x":8.3,"y":1.0},{"s":"H","x":8.45,"y":1.01},{"s":"H","x":8.55,"y":0.99},{"s":"H","x":8.68,"y":1.0},{"s":"H","x":8.8,"y":1.01},{"s":"H","x":8.93,"y":0.99},{"s":"H","x":9.05,"y":1.0},{"s":"H","x":8.25,"y":0.96},{"s":"H","x":8.38,"y":0.97},{"s":"H","x":8.5,"y":0.95},{"s":"H","x":8.6,"y":0.96},{"s":"H","x":8.7,"y":0.97},{"s":"H","x":8.78,"y":0.95},{"s":"H","x":8.88,"y":0.96},{"s":"H","x":8.98,"y":0.97},{"s":"H","x":9.1,"y":0.95},{"s":"H","x":9.22,"y":0.96},{"s":"H","x":8.2,"y":0.92},{"s":"H","x":8.32,"y":0.93},{"s":"H","x":8.44,"y":0.91},{"s":"H","x":8.54,"y":0.92},{"s":"H","x":8.63,"y":0.93},{"s":"H","x":8.72,"y":0.91},{"s":"H","x":8.82,"y":0.92},{"s":"H","x":8.92,"y":0.93},{"s":"H","x":9.02,"y":0.91},{"s":"H","x":9.14,"y":0.92},{"s":"H","x":9.28,"y":0.93},{"s":"H","x":8.15,"y":0.88},{"s":"H","x":8.27,"y":0.89},{"s":"H","x":8.38,"y":0.87},{"s":"H","x":8.48,"y":0.88},{"s":"H","x":8.58,"y":0.89},{"s":"H","x":8.67,"y":0.87},{"s":"H","x":8.76,"y":0.88},{"s":"H","x":8.86,"y":0.89},{"s":"H","x":8.96,"y":0.87},{"s":"H","x":9.06,"y":0.88},{"s":"H","x":9.18,"y":0.89},{"s":"H","x":9.32,"y":0.87},{"s":"H","x":8.22,"y":0.84},{"s":"H","x":8.34,"y":0.85},{"s":"H","x":8.44,"y":0.83},{"s":"H","x":8.53,"y":0.84},{"s":"H","x":8.62,"y":0.85},{"s":"H","x":8.72,"y":0.83},{"s":"H","x":8.81,"y":0.84},{"s":"H","x":8.91,"y":0.85},{"s":"H","x":9.01,"y":0.83},{"s":"H","x":9.12,"y":0.84},{"s":"H","x":9.24,"y":0.85},{"s":"H","x":9.38,"y":0.83},{"s":"H","x":8.28,"y":0.8},{"s":"H","x":8.4,"y":0.81},{"s":"H","x":8.5,"y":0.79},{"s":"H","x":8.6,"y":0.8},{"s":"H","x":8.7,"y":0.81},{"s":"H","x":8.78,"y":0.79},{"s":"H","x":8.88,"y":0.8},{"s":"H","x":8.97,"y":0.81},{"s":"H","x":9.08,"y":0.79},{"s":"H","x":9.2,"y":0.8},{"s":"H","x":9.34,"y":0.81},{"s":"H","x":8.24,"y":0.76},{"s":"H","x":8.36,"y":0.77},{"s":"H","x":8.46,"y":0.75},{"s":"H","x":8.57,"y":0.76},{"s":"H","x":8.67,"y":0.77},{"s":"H","x":8.76,"y":0.75},{"s":"H","x":8.86,"y":0.76},{"s":"H","x":8.95,"y":0.77},{"s":"H","x":9.05,"y":0.75},{"s":"H","x":9.16,"y":0.76},{"s":"H","x":9.28,"y":0.77},{"s":"H","x":8.32,"y":0.72},{"s":"H","x":8.44,"y":0.73},{"s":"H","x":8.55,"y":0.71},{"s":"H","x":8.66,"y":0.72},{"s":"H","x":8.8,"y":0.73},{"s":"H","x":8.92,"y":0.71},{"s":"H","x":9.04,"y":0.72},{"s":"H","x":9.14,"y":0.73},{"s":"H","x":9.26,"y":0.71},{"s":"H","x":8.4,"y":0.68},{"s":"H","x":8.52,"y":0.69},{"s":"H","x":8.62,"y":0.67},{"s":"H","x":8.74,"y":0.68},{"s":"H","x":8.86,"y":0.69},{"s":"H","x":8.98,"y":0.67},{"s":"H","x":9.1,"y":0.68},{"s":"H","x":9.22,"y":0.69},{"s":"H","x":8.48,"y":0.64},{"s":"H","x":8.64,"y":0.65},{"s":"H","x":8.8,"y":0.63},{"s":"H","x":8.94,"y":0.64},{"s":"H","x":9.06,"y":0.65},{"s":"H","x":8.7,"y":0.6},{"s":"H","x":8.88,"y":0.61},{"s":"H","x":9.02,"y":0.59},
{"s":"H","x":8.36,"y":1.025},{"s":"H","x":8.52,"y":1.025},{"s":"H","x":8.68,"y":1.025},{"s":"H","x":8.83,"y":1.025},{"s":"H","x":8.98,"y":1.025},{"s":"H","x":8.27,"y":0.98},{"s":"H","x":8.4,"y":0.98},{"s":"H","x":8.5,"y":0.98},{"s":"H","x":8.62,"y":0.98},{"s":"H","x":8.74,"y":0.98},{"s":"H","x":8.86,"y":0.98},{"s":"H","x":8.98,"y":0.98},{"s":"H","x":9.12,"y":0.98},{"s":"H","x":8.22,"y":0.94},{"s":"H","x":8.33,"y":0.94},{"s":"H","x":8.44,"y":0.94},{"s":"H","x":8.55,"y":0.94},{"s":"H","x":8.65,"y":0.94},{"s":"H","x":8.74,"y":0.94},{"s":"H","x":8.83,"y":0.94},{"s":"H","x":8.93,"y":0.94},{"s":"H","x":9.04,"y":0.94},{"s":"H","x":9.16,"y":0.94},{"s":"H","x":9.3,"y":0.94},{"s":"H","x":8.18,"y":0.9},{"s":"H","x":8.26,"y":0.9},{"s":"H","x":8.38,"y":0.9},{"s":"H","x":8.49,"y":0.9},{"s":"H","x":8.59,"y":0.9},{"s":"H","x":8.68,"y":0.9},{"s":"H","x":8.77,"y":0.9},{"s":"H","x":8.87,"y":0.9},{"s":"H","x":8.97,"y":0.9},{"s":"H","x":9.08,"y":0.9},{"s":"H","x":9.21,"y":0.9},{"s":"H","x":8.17,"y":0.86},{"s":"H","x":8.28,"y":0.86},{"s":"H","x":8.39,"y":0.86},{"s":"H","x":8.49,"y":0.86},{"s":"H","x":8.58,"y":0.86},{"s":"H","x":8.67,"y":0.86},{"s":"H","x":8.77,"y":0.86},{"s":"H","x":8.86,"y":0.86},{"s":"H","x":8.96,"y":0.86},{"s":"H","x":9.07,"y":0.86},{"s":"H","x":9.18,"y":0.86},{"s":"H","x":9.3,"y":0.86},{"s":"H","x":8.24,"y":0.82},{"s":"H","x":8.35,"y":0.82},{"s":"H","x":8.45,"y":0.82},{"s":"H","x":8.55,"y":0.82},{"s":"H","x":8.65,"y":0.82},{"s":"H","x":8.75,"y":0.82},{"s":"H","x":8.84,"y":0.82},{"s":"H","x":8.93,"y":0.82},{"s":"H","x":9.03,"y":0.82},{"s":"H","x":9.14,"y":0.82},{"s":"H","x":9.27,"y":0.82},{"s":"H","x":8.22,"y":0.78},{"s":"H","x":8.32,"y":0.78},{"s":"H","x":8.42,"y":0.78},{"s":"H","x":8.52,"y":0.78},{"s":"H","x":8.62,"y":0.78},{"s":"H","x":8.72,"y":0.78},{"s":"H","x":8.82,"y":0.78},{"s":"H","x":8.91,"y":0.78},{"s":"H","x":9.0,"y":0.78},{"s":"H","x":9.1,"y":0.78},{"s":"H","x":9.22,"y":0.78},{"s":"H","x":8.28,"y":0.74},{"s":"H","x":8.4,"y":0.74},{"s":"H","x":8.5,"y":0.74},{"s":"H","x":8.61,"y":0.74},{"s":"H","x":8.72,"y":0.74},{"s":"H","x":8.86,"y":0.74},{"s":"H","x":8.98,"y":0.74},{"s":"H","x":9.09,"y":0.74},{"s":"H","x":9.2,"y":0.74},{"s":"H","x":8.36,"y":0.7},{"s":"H","x":8.48,"y":0.7},{"s":"H","x":8.58,"y":0.7},{"s":"H","x":8.7,"y":0.7},{"s":"H","x":8.82,"y":0.7},{"s":"H","x":8.94,"y":0.7},{"s":"H","x":9.06,"y":0.7},{"s":"H","x":9.18,"y":0.7},{"s":"H","x":8.44,"y":0.66},{"s":"H","x":8.56,"y":0.66},{"s":"H","x":8.7,"y":0.66},{"s":"H","x":8.87,"y":0.66},{"s":"H","x":9.0,"y":0.66},{"s":"H","x":9.14,"y":0.66},{"s":"H","x":8.6,"y":0.62},{"s":"H","x":8.78,"y":0.62},{"s":"H","x":8.95,"y":0.62},
{"s":"H","x":10.22,"y":1.18},{"s":"H","x":10.51,"y":1.09},{"s":"H","x":10.32,"y":0.99},{"s":"H","x":11.0,"y":0.97},{"s":"H","x":10.53,"y":0.94},{"s":"H","x":10.03,"y":0.82},{"s":"H","x":10.09,"y":0.77},{"s":"H","x":10.21,"y":0.79},{"s":"H","x":10.19,"y":0.75},{"s":"H","x":10.43,"y":0.79},{"s":"H","x":10.79,"y":0.78},{"s":"H","x":10.77,"y":0.73},{"s":"H","x":10.39,"y":0.69},{"s":"H","x":10.5,"y":0.65},{"s":"H","x":11.44,"y":0.7},{"s":"H","x":10.98,"y":0.65},{"s":"H","x":10.23,"y":0.6},{"s":"H","x":10.33,"y":0.59},{"s":"H","x":10.26,"y":0.54},{"s":"H","x":10.58,"y":0.57},{"s":"H","x":10.73,"y":0.56},{"s":"H","x":10.81,"y":0.5},{"s":"H","x":10.89,"y":0.56},{"s":"H","x":10.95,"y":0.57},{"s":"H","x":11.16,"y":0.49},{"s":"H","x":11.07,"y":0.46},{"s":"H","x":11.02,"y":0.44},{"s":"H","x":11.29,"y":0.44},{"s":"H","x":11.42,"y":0.43},{"s":"H","x":10.41,"y":0.5},{"s":"H","x":10.32,"y":0.46},{"s":"H","x":10.39,"y":0.4},{"s":"H","x":10.48,"y":0.37},{"s":"H","x":10.22,"y":0.4},{"s":"H","x":10.13,"y":0.39},{"s":"H","x":9.68,"y":0.29},{"s":"H","x":9.75,"y":0.25},{"s":"H","x":9.86,"y":0.26},{"s":"H","x":10.09,"y":0.19},{"s":"H","x":10.16,"y":0.2},{"s":"H","x":10.26,"y":0.22},{"s":"H","x":10.36,"y":0.2},{"s":"H","x":10.52,"y":0.19},{"s":"H","x":10.82,"y":0.2},{"s":"H","x":10.96,"y":0.16},{"s":"H","x":11.04,"y":0.2},{"s":"H","x":11.15,"y":0.17},{"s":"H","x":11.44,"y":0.13},{"s":"H","x":10.45,"y":0.1},{"s":"H","x":10.5,"y":0.07},{"s":"H","x":10.63,"y":0.01},{"s":"H","x":11.08,"y":0.0},{"s":"H","x":11.1,"y":0.0},{"s":"H","x":9.79,"y":-0.04},{"s":"H","x":10.97,"y":-0.13},{"s":"H","x":11.23,"y":-0.31},{"s":"H","x":10.62,"y":0.32},{"s":"H","x":10.7,"y":0.25},{"s":"H","x":10.85,"y":0.33},{"s":"H","x":10.75,"y":0.23},{"s":"H","x":10.42,"y":0.3},{"s":"H","x":10.55,"y":0.24},
{"s":"H","x":9.26,"y":0.864},{"s":"H","x":9.38,"y":0.891},{"s":"H","x":9.45,"y":0.855},{"s":"H","x":9.5,"y":0.891},{"s":"H","x":9.56,"y":0.864},{"s":"H","x":9.31,"y":0.801},{"s":"H","x":9.39,"y":0.774},{"s":"H","x":9.48,"y":0.801},{"s":"H","x":9.58,"y":0.819},{"s":"H","x":9.67,"y":0.837},{"s":"H","x":9.75,"y":0.837},{"s":"H","x":9.82,"y":0.801},{"s":"H","x":9.68,"y":0.792},{"s":"H","x":9.62,"y":0.756},{"s":"H","x":9.55,"y":0.729},{"s":"H","x":9.45,"y":0.747},{"s":"H","x":9.34,"y":0.729},{"s":"H","x":9.72,"y":0.729},{"s":"H","x":9.8,"y":0.738},{"s":"H","x":9.87,"y":0.729},{"s":"H","x":9.65,"y":0.693},{"s":"H","x":9.56,"y":0.675},{"s":"H","x":9.45,"y":0.657},{"s":"H","x":9.75,"y":0.684},{"s":"H","x":9.85,"y":0.675},{"s":"H","x":9.92,"y":0.657},{"s":"H","x":9.99,"y":0.666},{"s":"H","x":9.62,"y":0.639},{"s":"H","x":9.68,"y":0.621},{"s":"H","x":9.82,"y":0.621},{"s":"H","x":9.92,"y":0.603},{"s":"H","x":10.02,"y":0.594},{"s":"H","x":10.13,"y":0.585},{"s":"H","x":9.73,"y":0.576},{"s":"H","x":9.85,"y":0.549},{"s":"H","x":9.96,"y":0.549},{"s":"H","x":10.06,"y":0.531},{"s":"H","x":10.16,"y":0.512},{"s":"H","x":9.65,"y":0.549},{"s":"H","x":9.55,"y":0.576},{"s":"H","x":9.79,"y":0.503},{"s":"H","x":9.89,"y":0.485},{"s":"H","x":9.99,"y":0.467},{"s":"H","x":10.09,"y":0.44},{"s":"H","x":10.16,"y":0.404},{"s":"H","x":10.26,"y":0.386},{"s":"H","x":9.92,"y":0.422},{"s":"H","x":9.82,"y":0.44},{"s":"H","x":9.72,"y":0.458},{"s":"H","x":9.62,"y":0.476},{"s":"H","x":9.51,"y":0.512},
{"s":"A","x":8.71,"y":0.805},{"s":"A","x":8.81,"y":0.756},{"s":"A","x":8.91,"y":0.702},{"s":"A","x":9.01,"y":0.693},{"s":"A","x":9.11,"y":0.657},{"s":"A","x":9.21,"y":0.644},{"s":"A","x":9.31,"y":0.594},{"s":"A","x":9.41,"y":0.549},{"s":"A","x":9.51,"y":0.522},{"s":"A","x":9.61,"y":0.467},{"s":"A","x":9.71,"y":0.449},{"s":"A","x":9.81,"y":0.404},{"s":"A","x":9.91,"y":0.372},{"s":"A","x":10.01,"y":0.35},{"s":"A","x":10.11,"y":0.323},{"s":"A","x":10.21,"y":0.309},{"s":"A","x":10.31,"y":0.291},{"s":"A","x":10.41,"y":0.283},{"s":"A","x":10.51,"y":0.278},{"s":"A","x":10.61,"y":0.278},{"s":"A","x":10.71,"y":0.274},{"s":"A","x":10.81,"y":0.269},{"s":"A","x":10.91,"y":0.282},{"s":"A","x":11.01,"y":0.287},{"s":"A","x":11.11,"y":0.269},{"s":"A","x":11.21,"y":0.292},{"s":"A","x":11.31,"y":0.3},
{"s":"M3","x":9.22,"y":0.96},{"s":"M3","x":9.53,"y":0.955},{"s":"M3","x":9.82,"y":0.949},{"s":"M3","x":10.21,"y":0.949},{"s":"M3","x":10.58,"y":0.852},
{"s":"M2","x":9.32,"y":0.986},{"s":"M2","x":9.62,"y":0.915},{"s":"M2","x":9.89,"y":0.946},{"s":"M2","x":10.22,"y":0.895},{"s":"M2","x":10.63,"y":0.832},
{"s":"D","x":8.3,"y":0.874},{"s":"D","x":8.55,"y":0.87},{"s":"D","x":8.69,"y":0.91},{"s":"D","x":8.79,"y":0.877},{"s":"D","x":8.92,"y":0.87},{"s":"D","x":9.11,"y":0.838},{"s":"D","x":9.47,"y":0.762},{"s":"D","x":9.75,"y":0.625},{"s":"D","x":10.15,"y":0.48},{"s":"D","x":10.69,"y":0.392}
]
},
"spacing":0,
"bounds":"flush",
"resolve":{"scale":{"x":"independent","y":"independent","color":"independent","shape":"independent","size":"independent"}},
"vconcat":[
{
"width":450,"height":351,
"layer":[
 {"layer":[
  {"data":{"name":"blob"},"mark":{"type":"area","color":"#8fbbd9","opacity":1},
   "encoding":{"x":{"field":"x","type":"quantitative","scale":{"domain":[7.307,11.9],"nice":false,"zero":false},"axis":null},
    "y":{"field":"y","type":"quantitative","scale":{"domain":[-1.157,1.226],"nice":false,"zero":false},"axis":null},"y2":{"field":"y2"}}},
  {"data":{"name":"outline"},"mark":{"type":"line","color":"#ff0000","strokeWidth":2,"strokeDash":[6,3]},
   "encoding":{"x":{"field":"x","type":"quantitative","axis":null},"y":{"field":"y","type":"quantitative","axis":null},"order":{"field":"i","type":"quantitative"}}},
  {"data":{"name":"curve"},"mark":{"type":"line","color":"#ff0000","strokeWidth":2.5},
   "encoding":{"x":{"field":"x","type":"quantitative","axis":null},"y":{"field":"y","type":"quantitative","axis":null}}},
  {"data":{"name":"vline"},"mark":{"type":"rule","color":"#000000","strokeWidth":2.5,"strokeDash":[9,4]},
   "encoding":{"x":{"field":"x","type":"quantitative","axis":{"orient":"bottom","values":[7.4,7.6,7.8,8.2,8.4,8.6,8.8,9.2,9.4,9.6,9.8,10.2,10.4,10.6,10.8,11.2,11.4,11.6,11.8],"tickSize":-4.5,"labels":false,"title":null}}}}
 ]},
 {"data":{"name":"p1"},"mark":{"type":"point","filled":true,"stroke":"#000000","strokeWidth":1.3,"opacity":1},
  "encoding":{
   "x":{"field":"x","type":"quantitative","scale":{"domain":[7.307,11.9],"nice":false,"zero":false},"axis":{"orient":"bottom","values":[8,9,10,11],"tickSize":-9,"labels":false,"title":null}},
   "y":{"field":"y","type":"quantitative","scale":{"domain":[-1.157,1.226],"nice":false,"zero":false},"axis":{"orient":"left","values":[-1,-0.5,0,0.5,1],"tickSize":-9,"format":".1f","labelPadding":16,"titlePadding":12,"title":"Log(O3Hβ)"}},
   "color":{"field":"s","type":"nominal","scale":{"domain":["A","M2","M3","H","D"],"range":["#008000","#bf00bf","#ff0000","#0000ff","#00ffff"]},"legend":{"orient":"none","legendX":7.5,"legendY":218,"title":null,"labelExpr":"datum.label=='A'?'AM13, z~0.07':datum.label=='M2'?'MOSDEF, z~2':datum.label=='M3'?'MOSDEF, z~3':datum.label=='H'?'HALO7D, z~0.7':'HALO7D Median'"}},
   "shape":{"field":"s","type":"nominal","scale":{"domain":["A","M2","M3","H","D"],"range":["square","circle","triangle-up","circle","diamond"]},"legend":{"orient":"none","legendX":7.5,"legendY":218,"title":null,"labelExpr":"datum.label=='A'?'AM13, z~0.07':datum.label=='M2'?'MOSDEF, z~2':datum.label=='M3'?'MOSDEF, z~3':datum.label=='H'?'HALO7D, z~0.7':'HALO7D Median'"}},
   "size":{"field":"s","type":"nominal","scale":{"type":"ordinal","domain":["A","M2","M3","H","D"],"range":[170,170,200,40,290]},"legend":{"orient":"none","legendX":7.5,"legendY":218,"title":null,"labelExpr":"datum.label=='A'?'AM13, z~0.07':datum.label=='M2'?'MOSDEF, z~2':datum.label=='M3'?'MOSDEF, z~3':datum.label=='H'?'HALO7D, z~0.7':'HALO7D Median'"}}
  }},
 {"data":{"name":"vline"},"mark":{"type":"point","opacity":0},
  "encoding":{
   "x":{"field":"x","type":"quantitative","axis":{"orient":"top","values":[7.4,7.6,7.8,8,8.2,8.4,8.6,8.8,9,9.2,9.4,9.6,9.8,10,10.2,10.4,10.6,10.8,11,11.2,11.4,11.6,11.8],"tickSize":{"condition":{"test":"abs(datum.value-round(datum.value))<0.01","value":-9},"value":-4.5},"labels":false,"title":null}},
   "y":{"datum":0,"type":"quantitative","axis":{"orient":"left","values":[-1.1,-0.9,-0.8,-0.7,-0.6,-0.4,-0.3,-0.2,-0.1,0.1,0.2,0.3,0.4,0.6,0.7,0.8,0.9,1.1,1.2],"tickSize":-4.5,"labels":false,"title":null}}
  }}
],
"resolve":{"axis":{"x":"independent","y":"independent"}}
},
{
"width":450,"height":351,
"layer":[
 {"data":{"name":"vline"},"mark":{"type":"rule","color":"#000000","strokeWidth":2.5,"strokeDash":[9,4]},
  "encoding":{"x":{"field":"x","type":"quantitative","scale":{"domain":[7.307,11.9],"nice":false,"zero":false},"axis":{"orient":"bottom","values":[7.4,7.6,7.8,8.2,8.4,8.6,8.8,9.2,9.4,9.6,9.8,10.2,10.4,10.6,10.8,11.2,11.4,11.6,11.8],"tickSize":-4.5,"labels":false,"title":null}}}},
 {"data":{"name":"p2"},"mark":{"type":"point","filled":true,"stroke":"#000000","strokeWidth":1.3,"opacity":1},
  "encoding":{
   "x":{"field":"x","type":"quantitative","scale":{"domain":[7.307,11.9],"nice":false,"zero":false},"axis":{"orient":"bottom","values":[8,9,10,11],"tickSize":-9,"labels":false,"title":null}},
   "y":{"field":"y","type":"quantitative","scale":{"domain":[-0.939,1.093],"nice":false,"zero":false},"axis":{"orient":"left","values":[-0.5,0,0.5,1],"tickSize":-9,"format":".1f","labelPadding":16,"titlePadding":12,"title":"Log(O3O2)"}},
   "color":{"field":"s","type":"nominal","scale":{"domain":["A","M2","M3","H","D"],"range":["#008000","#bf00bf","#ff0000","#0000ff","#00ffff"]},"legend":null},
   "shape":{"field":"s","type":"nominal","scale":{"domain":["A","M2","M3","H","D"],"range":["square","circle","triangle-up","circle","diamond"]},"legend":null},
   "size":{"field":"s","type":"nominal","scale":{"type":"ordinal","domain":["A","M2","M3","H","D"],"range":[170,170,200,40,290]},"legend":null}
  }},
 {"data":{"name":"vline"},"mark":{"type":"point","opacity":0},
  "encoding":{
   "x":{"field":"x","type":"quantitative","axis":{"orient":"top","values":[7.4,7.6,7.8,8,8.2,8.4,8.6,8.8,9,9.2,9.4,9.6,9.8,10,10.2,10.4,10.6,10.8,11,11.2,11.4,11.6,11.8],"tickSize":{"condition":{"test":"abs(datum.value-round(datum.value))<0.01","value":-9},"value":-4.5},"labels":false,"title":null}},
   "y":{"datum":0,"type":"quantitative","axis":{"orient":"left","values":[-0.9,-0.8,-0.7,-0.6,-0.4,-0.3,-0.2,-0.1,0.1,0.2,0.3,0.4,0.6,0.7,0.8,0.9],"tickSize":-4.5,"labels":false,"title":null}}
  }}
],
"resolve":{"axis":{"x":"independent","y":"independent"}}
},
{
"width":450,"height":351,
"layer":[
 {"data":{"name":"vline"},"mark":{"type":"rule","color":"#000000","strokeWidth":2.5,"strokeDash":[9,4]},
  "encoding":{"x":{"field":"x","type":"quantitative","scale":{"domain":[7.307,11.9],"nice":false,"zero":false},"axis":{"orient":"bottom","values":[7.4,7.6,7.8,8.2,8.4,8.6,8.8,9.2,9.4,9.6,9.8,10.2,10.4,10.6,10.8,11.2,11.4,11.6,11.8],"tickSize":-4.5,"labels":false,"title":null}}}},
 {"data":{"name":"p3"},"mark":{"type":"point","filled":true,"stroke":"#000000","strokeWidth":1.3,"opacity":1},
  "encoding":{
   "x":{"field":"x","type":"quantitative","scale":{"domain":[7.307,11.9],"nice":false,"zero":false},"axis":{"orient":"bottom","values":[8,9,10,11],"tickSize":-9,"format":"d","labelPadding":14,"labelFlush":false,"title":"Stellar Mass (Log(M/M⊙))","titlePadding":2}},
   "y":{"field":"y","type":"quantitative","scale":{"domain":[-0.397,1.5035],"nice":false,"zero":false},"axis":{"orient":"left","values":[0,0.5,1,1.5],"tickSize":-9,"format":".1f","labelPadding":16,"titlePadding":12,"title":"Log(R23)"}},
   "color":{"field":"s","type":"nominal","scale":{"domain":["A","M2","M3","H","D"],"range":["#008000","#bf00bf","#ff0000","#0000ff","#00ffff"]},"legend":null},
   "shape":{"field":"s","type":"nominal","scale":{"domain":["A","M2","M3","H","D"],"range":["square","circle","triangle-up","circle","diamond"]},"legend":null},
   "size":{"field":"s","type":"nominal","scale":{"type":"ordinal","domain":["A","M2","M3","H","D"],"range":[170,170,200,40,290]},"legend":null}
  }},
 {"data":{"name":"vline"},"mark":{"type":"point","opacity":0},
  "encoding":{
   "x":{"field":"x","type":"quantitative","axis":{"orient":"top","values":[7.4,7.6,7.8,8,8.2,8.4,8.6,8.8,9,9.2,9.4,9.6,9.8,10,10.2,10.4,10.6,10.8,11,11.2,11.4,11.6,11.8],"tickSize":{"condition":{"test":"abs(datum.value-round(datum.value))<0.01","value":-9},"value":-4.5},"labels":false,"title":null}},
   "y":{"datum":0,"type":"quantitative","axis":{"orient":"left","values":[-0.3,-0.2,-0.1,0.1,0.2,0.3,0.4,0.6,0.7,0.8,0.9,1.1,1.2,1.3,1.4],"tickSize":-4.5,"labels":false,"title":null}}
  }}
],
"resolve":{"axis":{"x":"independent","y":"independent"}}
}
]
}
